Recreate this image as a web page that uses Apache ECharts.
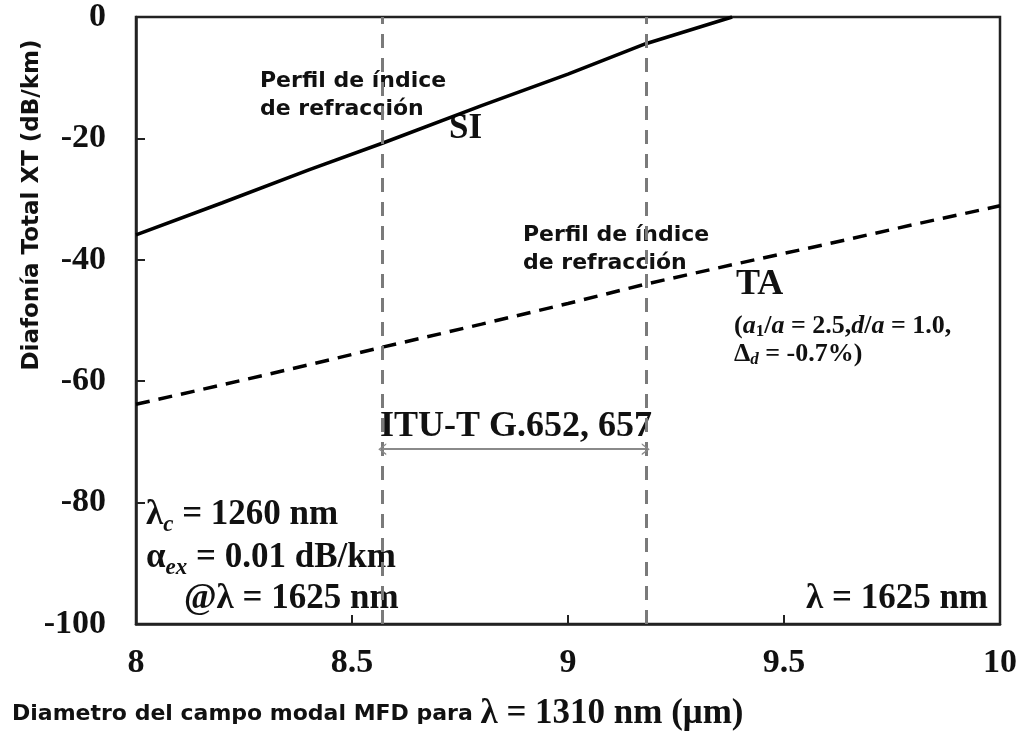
<!DOCTYPE html>
<html>
<head>
    <meta charset="utf-8">
    <title>Diafonía Total XT</title>
    <script src="https://cdn.jsdelivr.net/npm/echarts@6/dist/echarts.min.js"></script>
    <style>
        html, body { margin: 0; padding: 0; background: #fff; }
        #chart { width: 1024px; height: 738px; }
    </style>
</head>
<body>
    <div id="chart"></div>
    <script type="text/javascript">
        // MFD (um) y diafonía (dB/km)
        var siMfd = [8.0, 8.2, 8.4, 8.57, 8.8, 9.0, 9.18, 9.38];
        var siXt = [-35.9, -30.6, -25.2, -20.8, -14.6, -9.4, -4.4, 0];
        var taMfd = [8.0, 8.2, 8.4, 8.57, 8.8, 9.0, 9.18, 9.4, 9.6, 9.8, 10.0];
        var taXt = [-63.8, -60.6, -57.3, -54.4, -50.6, -47.2, -44.0, -40.5, -37.4, -34.2, -31.1];
        var ituLimits = [8.57, 9.18];   // rango ITU-T G.652, 657
        var arrowLevel = -71.2;
        var xTicks = [8, 8.5, 9, 9.5, 10];
        var yTicks = [0, -20, -40, -60, -80, -100];

        var serif = '"Liberation Serif", "Times New Roman", serif';
        var sans = '"DejaVu Sans", Verdana, sans-serif';
        var chevron = 'path://M0,10 L5,0 L10,10 L8.6,10 L5,2.8 L1.4,10 Z';

        function pairs(xs, ys) {
            var out = [];
            for (var i = 0; i < xs.length; i++) out.push([xs[i], ys[i]]);
            return out;
        }

        var big = { fontFamily: serif, fontWeight: 'bold', fontSize: 35, lineHeight: 44, fill: '#111' };
        function sub(italic) {
            return { fontFamily: serif, fontWeight: 'bold', fontStyle: italic ? 'italic' : 'normal',
                     fontSize: 23, lineHeight: 30, verticalAlign: 'bottom', fill: '#111' };
        }

        var chart = echarts.init(document.getElementById('chart'));
        var option = {
            animation: false,
            backgroundColor: '#fff',
            grid: {
                left: 136, right: 24, top: 15, bottom: 114,
                show: true, borderColor: '#222', borderWidth: 2.5, backgroundColor: 'transparent'
            },
            xAxis: {
                type: 'value', min: xTicks[0], max: xTicks[xTicks.length - 1], interval: 0.5,
                axisLine: { show: true, onZero: false, lineStyle: { color: '#222', width: 2.5 } },
                axisTick: { show: true, inside: true, length: 9, lineStyle: { color: '#222', width: 2 } },
                splitLine: { show: false },
                axisLabel: { color: '#111', fontFamily: serif, fontWeight: 'bold', fontSize: 34, margin: 22 }
            },
            yAxis: {
                type: 'value', min: yTicks[yTicks.length - 1], max: yTicks[0], interval: 20,
                axisLine: { show: true, onZero: false, lineStyle: { color: '#222', width: 2.5 } },
                axisTick: { show: true, inside: true, length: 9, lineStyle: { color: '#222', width: 2 } },
                splitLine: { show: false },
                axisLabel: { color: '#111', fontFamily: serif, fontWeight: 'bold', fontSize: 34, margin: 30 }
            },
            series: [
                {
                    name: 'SI',
                    type: 'line',
                    data: pairs(siMfd, siXt),
                    showSymbol: false,
                    lineStyle: { color: '#000', width: 3.5 },
                    z: 3,
                    markLine: {
                        silent: true,
                        symbol: 'none',
                        label: { show: false },
                        lineStyle: { color: '#7a7a7a', type: [14, 10], width: 3 },
                        data: ituLimits.map(function (v) { return { xAxis: v }; })
                    }
                },
                {
                    name: 'TA',
                    type: 'line',
                    data: pairs(taMfd, taXt),
                    showSymbol: false,
                    lineStyle: { color: '#000', width: 3.5, type: [14, 9] },
                    z: 3,
                    markLine: {
                        silent: true,
                        symbol: [chevron, chevron],
                        symbolSize: [12, 8],
                        label: { show: false },
                        lineStyle: { color: '#8a8a8a', type: 'solid', width: 2 },
                        data: [[{ coord: [ituLimits[0], arrowLevel] }, { coord: [ituLimits[1], arrowLevel] }]]
                    }
                }
            ],
            graphic: [
                // nombre del eje Y
                { type: 'text', x: 32, y: 205, rotation: Math.PI / 2,
                  style: { text: 'Diafonía Total XT (dB/km)', font: 'bold 23px ' + sans, fill: '#111',
                           align: 'center', verticalAlign: 'middle' } },
                // nombre del eje X
                { type: 'text', x: 12, y: 714,
                  style: { text: '{s|Diametro del campo modal MFD para }{m|λ = 1310 nm (μm)}',
                           verticalAlign: 'middle', align: 'left',
                           rich: { s: { fontFamily: sans, fontWeight: 'bold', fontSize: 22, fill: '#111' }, m: big } } },
                { type: 'text', x: 260, y: 95,
                  style: { text: 'Perfil de índice\nde refracción', font: 'bold 22px ' + sans, lineHeight: 28,
                           fill: '#111', align: 'left', verticalAlign: 'middle' } },
                { type: 'text', x: 449, y: 129,
                  style: { text: 'SI', font: 'bold 35px ' + serif, fill: '#111', align: 'left', verticalAlign: 'middle' } },
                { type: 'text', x: 523, y: 249,
                  style: { text: 'Perfil de índice\nde refracción', font: 'bold 22px ' + sans, lineHeight: 28,
                           fill: '#111', align: 'left', verticalAlign: 'middle' } },
                { type: 'text', x: 736, y: 285,
                  style: { text: 'TA', font: 'bold 36px ' + serif, fill: '#111', align: 'left', verticalAlign: 'middle' } },
                { type: 'text', x: 734, y: 340,
                  style: { text: '{p|(}{i|a}{s|1}{p|/}{i|a}{p| = 2.5,}{i|d}{p|/}{i|a}{p| = 1.0,}\n{p|Δ}{si|d}{p| = -0.7%)}',
                           align: 'left', verticalAlign: 'middle',
                           rich: {
                               p: { fontFamily: serif, fontWeight: 'bold', fontSize: 26, lineHeight: 28, fill: '#111' },
                               i: { fontFamily: serif, fontWeight: 'bold', fontStyle: 'italic', fontSize: 26, lineHeight: 28, fill: '#111' },
                               s: { fontFamily: serif, fontWeight: 'bold', fontSize: 17, lineHeight: 18, verticalAlign: 'bottom', fill: '#111' },
                               si: { fontFamily: serif, fontWeight: 'bold', fontStyle: 'italic', fontSize: 17, lineHeight: 18, verticalAlign: 'bottom', fill: '#111' }
                           } } },
                { type: 'text', x: 380, y: 427,
                  style: { text: 'ITU-T G.652, 657', font: 'bold 36px ' + serif, fill: '#111', align: 'left', verticalAlign: 'middle' } },
                { type: 'text', x: 146, y: 515,
                  style: { text: '{m|λ}{c|c}{m| = 1260 nm}', align: 'left', verticalAlign: 'middle',
                           rich: { m: big, c: sub(true) } } },
                { type: 'text', x: 146, y: 558,
                  style: { text: '{m|α}{c|ex}{m| = 0.01 dB/km}', align: 'left', verticalAlign: 'middle',
                           rich: { m: big, c: sub(true) } } },
                { type: 'text', x: 184, y: 599,
                  style: { text: '@λ = 1625 nm', font: 'bold 35px ' + serif, fill: '#111', align: 'left', verticalAlign: 'middle' } },
                { type: 'text', x: 988, y: 599,
                  style: { text: 'λ = 1625 nm', font: 'bold 35px ' + serif, fill: '#111', align: 'right', verticalAlign: 'middle' } }
            ]
        };
        chart.setOption(option);
    </script>
</body>
</html>
